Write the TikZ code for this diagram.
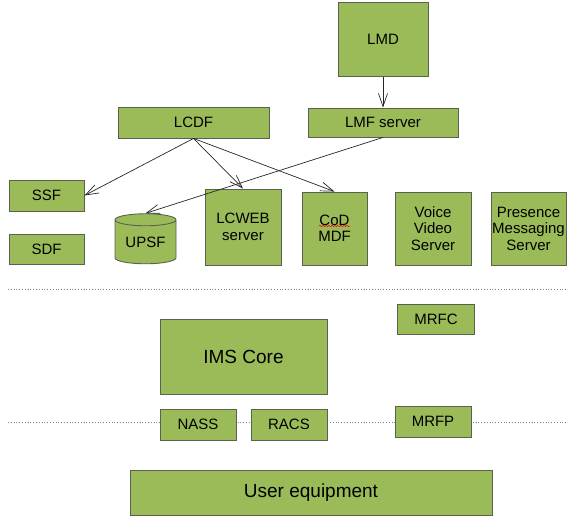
\documentclass[tikz,border=0pt]{standalone}
\usepackage{fontspec}
\setmainfont{Liberation Sans}
\usetikzlibrary{arrows.meta,shapes.geometric,decorations.pathmorphing}
\definecolor{boxgreen}{RGB}{155,187,89}
\definecolor{boxline}{RGB}{88,98,78}
\begin{document}
\begin{tikzpicture}[x=1pt,y=-1pt,
  box/.style={draw=boxline,fill=boxgreen,line width=0.9pt,inner sep=0pt,align=center,
    font=\fontsize{15}{16.5}\selectfont},
  bigbox/.style={box,font=\fontsize{19}{22}\selectfont},
  link/.style={->,line width=0.7pt,draw=black!85},
  >={Straight Barb[length=13pt,width=9pt]}]
\useasboundingbox (0,0) rectangle (568,517);

% Layer borders
\draw[gray,dotted,line width=0.8pt] (8,289) -- (568,289);
\draw[gray,dotted,line width=0.8pt] (8,422) -- (568,422);

% Service layer
\node[box,minimum width=90,minimum height=74] (lmd) at (383,39.5) {LMD};
\node[box,minimum width=150,minimum height=29] (lmf) at (383,122.5) {LMF server};
\node[box,minimum width=151,minimum height=31] (lcdf) at (193.5,122.5) {LCDF};
\node[box,minimum width=75,minimum height=31] (ssf) at (46.5,195.5) {SSF};
\node[box,minimum width=75,minimum height=30] (sdf) at (46.5,249) {SDF};
\node[box,shape=cylinder,shape border rotate=90,aspect=0.3,
  minimum width=61,minimum height=50] (upsf) at (145.5,242) {UPSF};
\node[box,minimum width=76,minimum height=76] (lcweb) at (243,227) {LCWEB\\server};
\node[box,minimum width=65,minimum height=73] (cod) at (334.5,228.5) {CoD\\MDF};
\node[box,minimum width=76,minimum height=73] (voice) at (433,228.5) {Voice\\Video\\Server};
\node[box,minimum width=75,minimum height=73] (presence) at (528.5,228.5) {Presence\\Messaging\\Server};
% spell check mark under CoD
\draw[red,line width=0.5pt,decorate,decoration={snake,amplitude=0.7pt,segment length=3pt}]
  (319,226) -- (350,226);

% Control layer
\node[bigbox,minimum width=167,minimum height=75] (ims) at (243.5,356.5) {IMS Core};
\node[box,minimum width=77,minimum height=30] (mrfc) at (436,319) {MRFC};

% Transport layer
\node[box,minimum width=76,minimum height=31] (nass) at (198,424.5) {NASS};
\node[box,minimum width=76,minimum height=31] (racs) at (289,424.5) {RACS};
\node[box,minimum width=76,minimum height=31] (mrfp) at (433,421.5) {MRFP};
\node[bigbox,minimum width=362,minimum height=45] (ue) at (311,492.5) {User equipment};

% Connections
\draw[link] (lmd) -- (lmf);
\draw[link] (lcdf.south) -- (ssf.east);
\draw[link] (lcdf.south) -- (lcweb.north);
\draw[link] (lcdf.south) -- (cod.north);
\draw[link] (lmf.south) -- (upsf.north);

\end{tikzpicture}
\end{document}
